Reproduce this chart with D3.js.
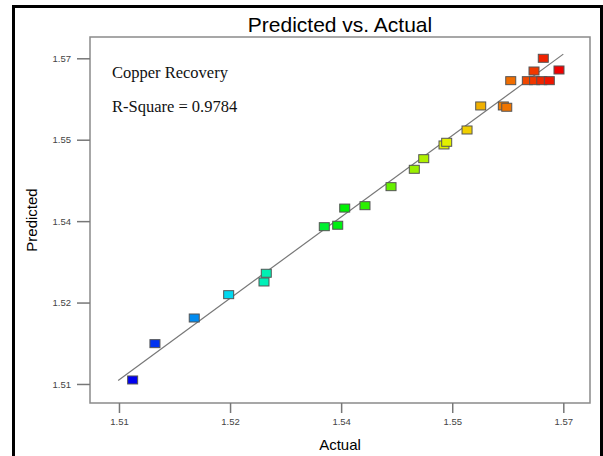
<!DOCTYPE html>
<html>
<head>
<meta charset="utf-8">
<script src="https://d3js.org/d3.v7.min.js"></script>
<style>
  body { margin: 0; background: #fff; }
</style>
</head>
<body>
<div id="chart"></div>
<script>
// set the dimensions and margins of the graph
const W = 603, H = 456;
const margin = {top: 37, right: 13, bottom: 53, left: 90},
    width = W - margin.left - margin.right,
    height = H - margin.top - margin.bottom;

// data
const actual = [1.51288, 1.51562, 1.52045, 1.52468, 1.52902, 1.52930, 1.53643, 1.53808,
  1.53894, 1.54143, 1.54463, 1.54749, 1.54865, 1.55114, 1.55147, 1.55397, 1.55565,
  1.55843, 1.55885, 1.55934, 1.56138, 1.56227, 1.56315, 1.56408, 1.56220, 1.56334, 1.56527];
const predicted = [1.51117, 1.51726, 1.52156, 1.52547, 1.52760, 1.52906, 1.53687, 1.53711,
  1.53999, 1.54039, 1.54358, 1.54649, 1.54827, 1.55057, 1.55102, 1.55308, 1.55711,
  1.55711, 1.55689, 1.56135, 1.56135, 1.56135, 1.56135, 1.56135, 1.56297, 1.56510, 1.56314];
const xTicks = [1.5112, 1.52485, 1.5385, 1.55215, 1.5658];
const yTicks = [1.5105, 1.52415, 1.5378, 1.55145, 1.5651];
const fitLine = [1.5111, 1.5658];
const title = "Predicted vs. Actual";
const notes = ["Copper Recovery", "R-Square = 0.9784"];

const data = actual.map((a, i) => ({actual: a, predicted: predicted[i]}));

const root = d3.select("#chart")
  .append("svg")
    .attr("width", W)
    .attr("height", H);

// outer frame
root.append("path")
  .attr("d", `M13.5,${H + 5} V6.5 H601.5 V${H + 5}`)
  .attr("fill", "none")
  .attr("stroke", "#000")
  .attr("stroke-width", 3);

const svg = root.append("g")
    .attr("transform", `translate(${margin.left},${margin.top})`);

// scales
const x = d3.scaleLinear()
  .domain([1.50764, 1.56908])
  .range([0, width]);
const y = d3.scaleLinear()
  .domain([1.50731, 1.56867])
  .range([height, 0]);

// colour by actual value, blue -> red
const hue = d3.scaleLinear()
  .domain(d3.extent(actual))
  .range([240, 0]);

// plot box
svg.append("rect")
  .attr("width", width)
  .attr("height", height)
  .attr("fill", "#fff")
  .attr("stroke", "#8a8a8a")
  .attr("stroke-width", 1.5);

// X axis
const xAxis = svg.append("g")
  .attr("transform", `translate(0, ${height})`)
  .call(d3.axisBottom(x).tickValues(xTicks).tickFormat(d3.format(".2f")).tickSize(10).tickPadding(5));
xAxis.select(".domain").remove();
xAxis.selectAll("line").attr("stroke", "#777").attr("stroke-width", 1.5);
xAxis.selectAll("text").attr("fill", "#444").style("font", "9.5px Arial, 'Liberation Sans', sans-serif");

// Y axis
const yAxis = svg.append("g")
  .call(d3.axisLeft(y).tickValues(yTicks).tickFormat(d3.format(".2f")).tickSize(13).tickPadding(6));
yAxis.select(".domain").remove();
yAxis.selectAll("line").attr("stroke", "#777").attr("stroke-width", 1.5);
yAxis.selectAll("text").attr("fill", "#444").style("font", "9.5px Arial, 'Liberation Sans', sans-serif");

// fit line
svg.append("line")
  .attr("x1", x(fitLine[0])).attr("y1", y(fitLine[0]))
  .attr("x2", x(fitLine[1])).attr("y2", y(fitLine[1]))
  .attr("stroke", "#777")
  .attr("stroke-width", 1.2);

// points
const sw = 10, sh = 8;
svg.append("g")
  .selectAll("rect")
  .data(data)
  .join("rect")
    .attr("x", d => x(d.actual) - sw / 2)
    .attr("y", d => y(d.predicted) - sh / 2)
    .attr("width", sw)
    .attr("height", sh)
    .attr("fill", d => d3.hsl(hue(d.actual), 1, 0.47))
    .attr("stroke", "#555")
    .attr("stroke-width", 1);

// notes
svg.selectAll(".note")
  .data(notes)
  .join("text")
    .attr("class", "note")
    .attr("x", 22)
    .attr("y", (d, i) => 41 + i * 34)
    .style("font", "16.5px 'Liberation Serif', 'Times New Roman', serif")
    .attr("fill", "#111")
    .text(d => d);

// titles
root.append("text")
  .attr("x", margin.left + width / 2)
  .attr("y", 32)
  .attr("text-anchor", "middle")
  .style("font", "21px Arial, 'Liberation Sans', sans-serif")
  .text(title);

root.append("text")
  .attr("x", margin.left + width / 2)
  .attr("y", 450)
  .attr("text-anchor", "middle")
  .style("font", "15px Arial, 'Liberation Sans', sans-serif")
  .text("Actual");

root.append("text")
  .attr("transform", `translate(37, ${margin.top + height / 2}) rotate(-90)`)
  .attr("text-anchor", "middle")
  .style("font", "15px Arial, 'Liberation Sans', sans-serif")
  .text("Predicted");
</script>
</body>
</html>
